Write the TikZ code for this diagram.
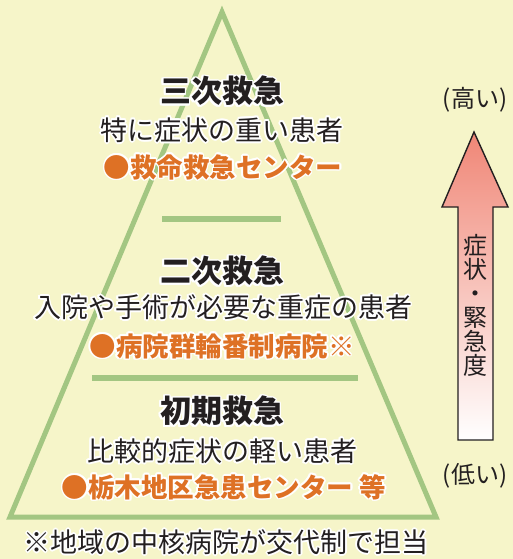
\documentclass[tikz,border=0pt]{standalone}
\usepackage{fontspec}
\usepackage[copies]{contour}
\setmainfont{Noto Sans CJK JP}
\newfontfamily\jp{Noto Sans CJK JP}
\contourlength{1.6pt}
\contournumber{16}
\definecolor{bg}{HTML}{F6F5C9}
\definecolor{pyrgreen}{HTML}{A3C682}
\definecolor{txt}{HTML}{231F20}
\definecolor{orng}{HTML}{DE7125}
\definecolor{arrtop}{HTML}{F08676}
\newcommand{\hl}[1]{\contour{white}{#1}}
\tikzset{
  title/.style={font=\jp\fontsize{31}{31}\selectfont\bfseries, text=txt, inner sep=0pt},
  desc/.style={font=\jp\fontsize{27}{27}\selectfont, text=txt, inner sep=0pt},
  inst/.style={font=\jp\fontsize{26.5}{26.5}\selectfont\bfseries, text=orng, inner sep=0pt},
  side/.style={font=\jp\fontsize{24}{24}\selectfont, text=txt, inner sep=0pt},
  sep/.style={draw=pyrgreen, line width=6pt},
}
\begin{document}
\begin{tikzpicture}[x=1pt,y=-1pt]
\fill[bg] (0,0) rectangle (513,559);
\useasboundingbox (0,0) rectangle (513,559);
% pyramid
\draw[pyrgreen, line width=5pt, line join=miter] (222,12) -- (436,517) -- (10,517) -- cycle;
\coordinate (s1l) at (162,219); \coordinate (s1r) at (281,219);
\coordinate (s2l) at (92,378); \coordinate (s2r) at (358,378);
\draw[sep] (s1l) -- (s1r);
\draw[sep] (s2l) -- (s2r);
% texts
\node[title] (t3) at (222,92) {\hl{三次救急}};
\node[desc] (d3) at (222,131) {\hl{特に症状の重い患者}};
\node[inst] (i3) at (223,168) {\hl{●救命救急センター}};
\node[title] (t2) at (222,272) {\hl{二次救急}};
\node[desc] (d2) at (223,308) {\hl{入院や手術が必要な重症の患者}};
\node[inst] (i2) at (222,347) {\hl{●病院群輪番制病院※}};
\node[title] (t1) at (222,412) {\hl{初期救急}};
\node[desc] (d1) at (222,452) {\hl{比較的症状の軽い患者}};
\node[inst] (i1) at (224,488) {\hl{●栃木地区急患センター 等}};
\node[desc] (note) at (226,543) {\hl{※地域の中核病院が交代制で担当}};
% arrow
\shade[top color=arrtop, bottom color=white]
  (474,132) -- (508,207) -- (493,207) -- (493,440) -- (458,440) -- (458,207) -- (442,207) -- cycle;
\draw[txt, line width=1.4pt, line join=miter]
  (474,132) -- (508,207) -- (493,207) -- (493,440) -- (458,440) -- (458,207) -- (442,207) -- cycle;
\node[side, align=center] (vt) at (475.5,305) {\baselineskip=27.5pt 症\\状\\・\\緊\\急\\度};
\node[side] (hi) at (475,100) {(高い)};
\node[side] (lo) at (475,476) {(低い)};
\end{tikzpicture}
\end{document}
